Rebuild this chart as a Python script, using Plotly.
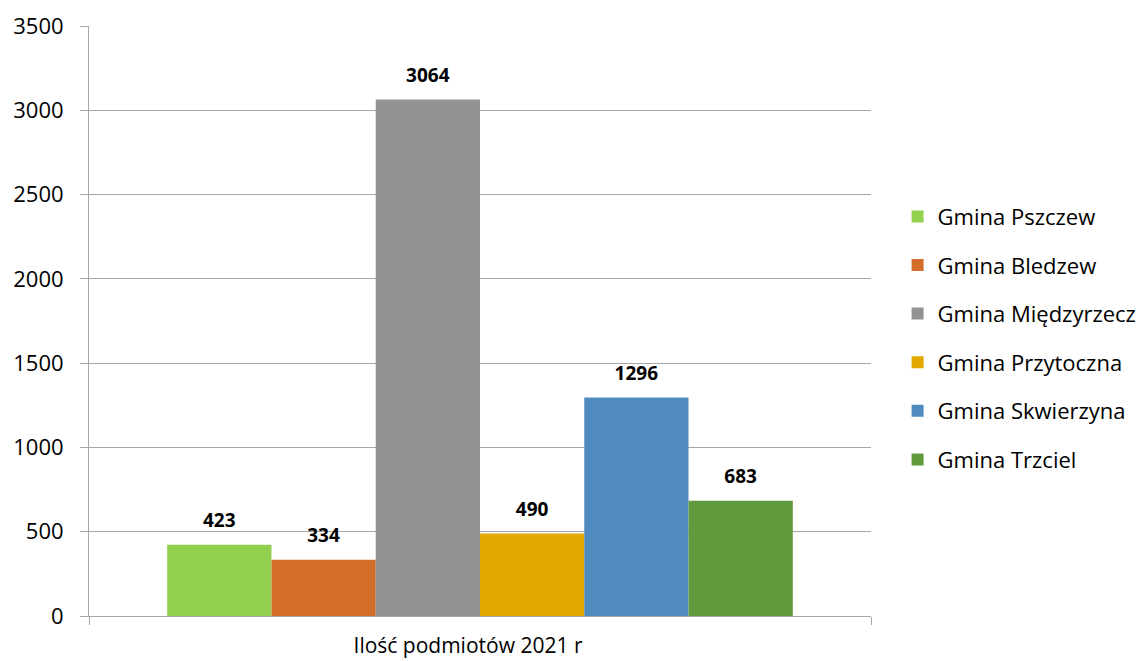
import plotly.graph_objects as go

category = ["Ilość podmiotów 2021 r"]
gminy = ["Gmina Pszczew", "Gmina Bledzew", "Gmina Międzyrzecz",
         "Gmina Przytoczna", "Gmina Skwierzyna", "Gmina Trzciel"]
values = [423, 334, 3064, 490, 1296, 683]
colors = ["#92D050", "#D36E2A", "#939393", "#E2A800", "#4F8BBF", "#619A3D"]
y_ticks = [0, 500, 1000, 1500, 2000, 2500, 3000, 3500]

FONT = "Open Sans"
fig = go.Figure()
for i, (name, val, col) in enumerate(zip(gminy, values, colors)):
    fig.add_trace(go.Bar(
        x=category, y=[val], name=name, marker=dict(color=col, line=dict(width=0)),
        text=[val],
        texttemplate="<span style='font-size:19px'><b>%{y}</b></span><br> ",
        textposition="outside",
        textfont=dict(family=FONT, size=9, color="black"),
        cliponaxis=False, legendgroup=str(i),
    ))

fig.update_layout(
    barmode="group", bargap=0.2, bargroupgap=0,
    width=1140, height=653,
    margin=dict(l=81, r=277, t=18, b=45, autoexpand=False),
    plot_bgcolor="white", paper_bgcolor="white",
    font=dict(family=FONT, size=22, color="black"),
    showlegend=True,
    legend=dict(x=1.034, y=0.471, xanchor="left", yanchor="middle",
                font=dict(family=FONT, size=22, color="black"),
                traceorder="grouped", tracegroupgap=17, itemwidth=30),
    yaxis=dict(range=[0, 3500], tickvals=y_ticks, showgrid=True,
               gridcolor="#A6A6A6", gridwidth=1, showline=True,
               linecolor="#A6A6A6", linewidth=1, ticks="outside",
               ticklen=8, tickcolor="#A6A6A6", ticklabelstandoff=12,
               zeroline=False, tickfont=dict(size=22), automargin=False),
    xaxis=dict(showline=True, linecolor="#A6A6A6", linewidth=1,
               ticks="outside", ticklen=8, tickcolor="#A6A6A6",
               tickson="boundaries", tickfont=dict(size=21),
               ticklabelstandoff=11, ticklabelshift=-12, automargin=False),
)

fig.write_html("out.html")
